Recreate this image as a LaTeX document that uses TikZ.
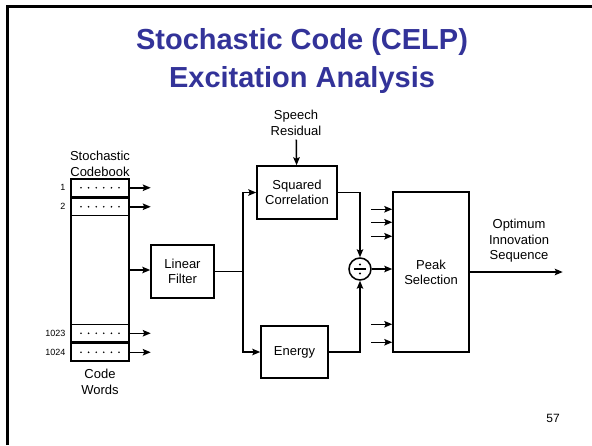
\documentclass[tikz,border=0pt]{standalone}
\usepackage{fontspec}
\setmainfont{Liberation Sans}
\usetikzlibrary{arrows.meta,positioning}
\definecolor{titleblue}{RGB}{51,51,153}
\begin{document}
\begin{tikzpicture}[x=1pt,y=-1pt,line width=1.5pt,>={Stealth[length=8pt,width=6.5pt,inset=1.5pt]}]
\tikzset{block/.style={draw,inner sep=0pt,align=center,font=\fontsize{13}{15}\selectfont},
  lbl/.style={align=center,font=\fontsize{13}{15.5}\selectfont},
  num/.style={anchor=east,inner sep=0pt,font=\fontsize{9}{10}\selectfont},
  row/.style={draw,minimum width=58pt,minimum height=17.5pt,inner sep=0pt}}
\useasboundingbox (0,0) rectangle (592,445);
% The slide
\draw[line width=3pt] (7,445) -- (7,6) -- (592,6);
\node[align=center,text=titleblue,font=\bfseries\fontsize{29}{38}\selectfont] (title) at (302,61)
  {Stochastic Code (CELP)\\Excitation Analysis};
\node[font=\fontsize{12}{14}\selectfont] (page) at (553,418) {57};
%%%
% The codebook
\node[draw,minimum width=58pt,minimum height=182pt,inner sep=0pt] (book) at (100,270) {};
\node[row,anchor=north] (row1) at (book.north) {};
\node[row,below=0pt of row1] (row2) {};
\node[row,anchor=south] (row1024) at (book.south) {};
\node[row,above=0pt of row1024] (row1023) {};
\foreach \r/\rtext in {row1/1,row2/2,row1023/1023,row1024/1024}{
  \foreach \i in {0,...,5}
    \fill ([xshift=-19pt+\i*7.6pt]\r.center) circle (0.9pt);
  \node[num] at ([xshift=-4pt]\r.west) {\rtext};
  \draw[->] (\r.east) -- ++(21,0);
}
\node[lbl] (cbk) at (100,164) {Stochastic\\Codebook};
\node[lbl] (cw) at (100,382) {Code\\Words};
%%%
% The blocks
\node[block,minimum width=63pt,minimum height=53pt] (filt) at (182.5,271.5) {Linear\\Filter};
\node[block,minimum width=80pt,minimum height=53pt] (sq) at (297,192.5) {Squared\\Correlation};
\node[block,minimum width=67pt,minimum height=52pt] (en) at (294.5,352) {Energy};
\node[draw,circle,minimum size=22pt,inner sep=0pt] (div) at (360,269) {};
\draw[line width=1.3pt] ([xshift=-6pt]div.center) -- ([xshift=6pt]div.center);
\fill ([yshift=4.5pt]div.center) circle (1.2pt) ([yshift=-4.5pt]div.center) circle (1.2pt);
\node[block,minimum width=76pt,minimum height=160pt] (peak) at (431,272) {Peak\\Selection};
\node[lbl] (res) at (296,123) {Speech\\Residual};
\node[lbl] (opt) at (519,241) {Optimum\\Innovation\\Sequence};
\coordinate (split) at (243,271.5);
%%%
% The connectors
\draw[->] (book.east) -- (book.east -| filt.west);
\draw (filt.east) -- (split);
\draw[->] (split) |- (sq.west);
\draw[->] (split) |- (en.west);
\draw[->] (res) -- (sq);
\draw[->] (sq.east) -| (div.north);
\draw[->] (en.east) -| (div.south);
\draw[->] (div.east) -- (div.east -| peak.west);
\foreach \d in {18,31,45,133,151}
  \draw[->] ([xshift=-21pt,yshift=-\d pt]peak.north west) -- ([yshift=-\d pt]peak.north west);
\draw[->] (peak.east) -- ++(93,0);
\end{tikzpicture}
\end{document}
